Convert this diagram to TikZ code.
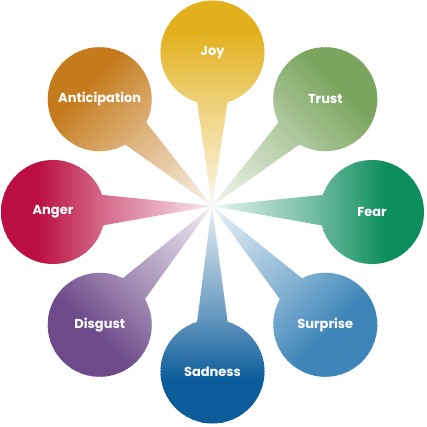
\documentclass[tikz,border=0pt]{standalone}
\usepackage{fontspec}
\usetikzlibrary{calc}
\newfontfamily\petalfont{Poppins}
\definecolor{joycol}{RGB}{226,176,28}
\definecolor{trustcol}{RGB}{123,165,95}
\definecolor{fearcol}{RGB}{14,142,95}
\definecolor{surprisecol}{RGB}{61,133,185}
\definecolor{sadnesscol}{RGB}{12,92,154}
\definecolor{disgustcol}{RGB}{110,74,138}
\definecolor{angercol}{RGB}{187,14,66}
\definecolor{anticol}{RGB}{197,123,28}

\begin{document}
\begin{tikzpicture}[x=1pt,y=1pt,
    word/.style={text=white,font=\petalfont\bfseries\fontsize{13}{15}\selectfont}]
    \useasboundingbox (0,0) rectangle (426,427);
    \coordinate (mid) at (212.5,215);
    \coordinate (hub) at (212,221);
    \foreach \ang/\col/\name/\txt in {90/joycol/joy/Joy,45/trustcol/trust/Trust,0/fearcol/fear/Fear,
        -45/surprisecol/surprise/Surprise,-90/sadnesscol/sadness/Sadness,-135/disgustcol/disgust/Disgust,
        180/angercol/anger/Anger,135/anticol/anticipation/Anticipation}{
      \coordinate (c-\name) at ($(mid)+(\ang:159.5)$);
      \colorlet{pcol}{\col}
      % petal = wedge from the hub + circle, filled in thin bands
      \begin{scope}
        \clip let \p1=($(hub)-(c-\name)$), \n1={atan2(\y1,\x1)} in
          (hub) -- ($(c-\name)+({\n1+17}:52)$) arc[start angle={\n1+17}, end angle={\n1+343}, radius=52] -- cycle;
        \foreach \d in {0,3,...,216}{
          \pgfmathsetmacro\pct{min(100,max(62*\d/107,62+38*(\d-107)/78))}
          \fill[pcol!\pct,shift={(hub)},rotate=\ang] (\d,-60) rectangle (\d+4,60);
        }
      \end{scope}
      \node[word] (\name) at (c-\name) {\txt};
    }
\end{tikzpicture}
\end{document}
